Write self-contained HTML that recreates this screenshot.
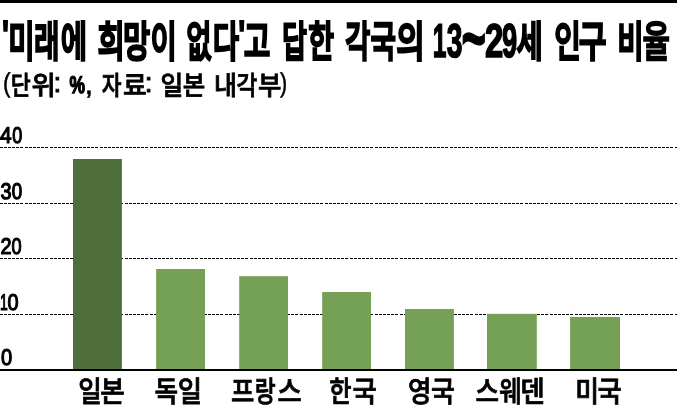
<!DOCTYPE html>
<html lang="ko">
<head>
<meta charset="utf-8">
<title>'미래에 희망이 없다'고 답한 각국의 13~29세 인구 비율</title>
<style>
html,body{margin:0;padding:0;background:#fff;}
body{width:677px;height:405px;overflow:hidden;}
svg{display:block;}
text{fill:#000;text-rendering:geometricPrecision;}
</style>
</head>
<body>
<svg width="677" height="405" viewBox="0 0 677 405">
<rect x="0" y="0" width="677" height="405" fill="#fff"/>
<rect x="0" y="0" width="677" height="3" fill="#000"/>
<g stroke="#000" stroke-width="1" stroke-dasharray="3 1 3 1 3 1 3 1 3 1 3 2" shape-rendering="crispEdges">
<line x1="0" y1="147.5" x2="677" y2="147.5"/>
<line x1="0" y1="203.5" x2="677" y2="203.5"/>
<line x1="0" y1="258.5" x2="677" y2="258.5"/>
<line x1="0" y1="314.5" x2="677" y2="314.5"/>
</g>
<rect x="73.0" y="159.0" width="48.9" height="210.5" fill="#4e6f3b"/>
<rect x="156.1" y="269.0" width="48.9" height="100.5" fill="#74a156"/>
<rect x="239.2" y="276.2" width="48.8" height="93.3" fill="#74a156"/>
<rect x="322.2" y="292.0" width="48.8" height="77.5" fill="#74a156"/>
<rect x="405.0" y="309.0" width="48.9" height="60.5" fill="#74a156"/>
<rect x="487.0" y="313.8" width="49.8" height="55.7" fill="#74a156"/>
<rect x="570.1" y="317.0" width="49.9" height="52.5" fill="#74a156"/>
<rect x="0" y="369.0" width="677" height="2.00" fill="#000"/>
<text transform="translate(0 57) scale(0.6407 1)" font-family='"Liberation Sans", "Noto Sans CJK KR", sans-serif' font-size="43.09" font-weight="500" stroke="#000" stroke-width="2.5" stroke-linejoin="miter" vector-effect="non-scaling-stroke"><tspan x="3.12" y="-8" font-size="40.98" font-weight="700" stroke-width="1.6" textLength="10.85" lengthAdjust="spacingAndGlyphs">'</tspan><tspan x="12.80" y="0" textLength="41.23" lengthAdjust="spacingAndGlyphs">미</tspan><tspan x="53.21" y="0" textLength="39.88" lengthAdjust="spacingAndGlyphs">래</tspan><tspan x="94.76" y="0" textLength="41.16" lengthAdjust="spacingAndGlyphs">에</tspan> <tspan x="152.06" y="0" textLength="42.54" lengthAdjust="spacingAndGlyphs">희</tspan><tspan x="191.83" y="0" textLength="42.46" lengthAdjust="spacingAndGlyphs">망</tspan><tspan x="234.90" y="0" textLength="41.00" lengthAdjust="spacingAndGlyphs">이</tspan> <tspan x="290.65" y="0" textLength="39.48" lengthAdjust="spacingAndGlyphs">없</tspan><tspan x="332.17" y="0" textLength="41.17" lengthAdjust="spacingAndGlyphs">다</tspan><tspan x="371.76" y="-8" font-size="40.98" font-weight="700" stroke-width="1.6" textLength="10.85" lengthAdjust="spacingAndGlyphs">'</tspan><tspan x="380.60" y="0" textLength="41.55" lengthAdjust="spacingAndGlyphs">고</tspan> <tspan x="440.26" y="0" textLength="39.04" lengthAdjust="spacingAndGlyphs">답</tspan><tspan x="481.12" y="0" textLength="40.35" lengthAdjust="spacingAndGlyphs">한</tspan> <tspan x="539.00" y="0" textLength="39.08" lengthAdjust="spacingAndGlyphs">각</tspan><tspan x="578.39" y="0" textLength="39.80" lengthAdjust="spacingAndGlyphs">국</tspan><tspan x="618.56" y="0" textLength="44.45" lengthAdjust="spacingAndGlyphs">의</tspan> <tspan x="675.38" y="0" font-size="47.58" font-weight="700" stroke-width="1.6" textLength="21.39" lengthAdjust="spacingAndGlyphs">1</tspan><tspan x="697.35" y="0" font-size="47.58" font-weight="700" stroke-width="1.6" textLength="24.48" lengthAdjust="spacingAndGlyphs">3</tspan><tspan x="720.24" y="6" font-size="72.63" font-weight="700" stroke-width="1.8" textLength="38.08" lengthAdjust="spacingAndGlyphs">~</tspan><tspan x="756.99" y="0" font-size="47.58" font-weight="700" stroke-width="1.6" textLength="28.59" lengthAdjust="spacingAndGlyphs">2</tspan><tspan x="783.63" y="0" font-size="47.58" font-weight="700" stroke-width="1.6" textLength="23.65" lengthAdjust="spacingAndGlyphs">9</tspan><tspan x="806.35" y="0" textLength="41.07" lengthAdjust="spacingAndGlyphs">세</tspan> <tspan x="864.95" y="0" textLength="41.59" lengthAdjust="spacingAndGlyphs">인</tspan><tspan x="903.26" y="0" textLength="43.53" lengthAdjust="spacingAndGlyphs">구</tspan> <tspan x="963.43" y="0" textLength="41.23" lengthAdjust="spacingAndGlyphs">비</tspan><tspan x="1002.67" y="0" stroke-width="1.9" textLength="42.87" lengthAdjust="spacingAndGlyphs">율</tspan></text>
<text transform="translate(0 95) scale(0.9012 1)" font-family='"Liberation Sans", "Noto Sans CJK KR", sans-serif' font-size="26.69" font-weight="500" stroke="#000" stroke-width="0.8" stroke-linejoin="miter" vector-effect="non-scaling-stroke"><tspan x="3.21" y="-3" font-size="27.11" font-weight="400" stroke-width="0.5" textLength="8.42" lengthAdjust="spacingAndGlyphs">(</tspan><tspan x="11.80" y="0" textLength="22.18" lengthAdjust="spacingAndGlyphs">단</tspan><tspan x="35.09" y="0" textLength="26.89" lengthAdjust="spacingAndGlyphs">위</tspan><tspan x="59.00" y="-3" font-size="28.01" textLength="9.14" lengthAdjust="spacingAndGlyphs">:</tspan> <tspan x="77.07" y="-2" font-size="24.24" font-weight="700" stroke-width="1.4" textLength="17.14" lengthAdjust="spacingAndGlyphs">%</tspan><tspan x="95.43" y="-1" font-size="21.83" font-weight="700" stroke-width="0.6" textLength="6.42" lengthAdjust="spacingAndGlyphs">,</tspan> <tspan x="112.86" y="0" textLength="21.94" lengthAdjust="spacingAndGlyphs">자</tspan><tspan x="136.54" y="0" textLength="26.31" lengthAdjust="spacingAndGlyphs">료</tspan><tspan x="160.31" y="-3" font-size="28.01" textLength="9.14" lengthAdjust="spacingAndGlyphs">:</tspan> <tspan x="178.20" y="0" textLength="25.21" lengthAdjust="spacingAndGlyphs">일</tspan><tspan x="202.89" y="0" textLength="24.97" lengthAdjust="spacingAndGlyphs">본</tspan> <tspan x="237.42" y="0" textLength="25.56" lengthAdjust="spacingAndGlyphs">내</tspan><tspan x="262.41" y="0" textLength="23.12" lengthAdjust="spacingAndGlyphs">각</tspan><tspan x="286.32" y="0" textLength="25.95" lengthAdjust="spacingAndGlyphs">부</tspan><tspan x="310.71" y="-3" font-size="27.11" font-weight="400" stroke-width="0.5" textLength="8.00" lengthAdjust="spacingAndGlyphs">)</tspan></text>
<text transform="translate(0 143) scale(0.8400 1)" font-family='"Liberation Sans", "Noto Sans CJK KR", sans-serif' font-size="22.70" font-weight="400" stroke="#000" stroke-width="1.2" stroke-linejoin="miter" vector-effect="non-scaling-stroke"><tspan x="0.08" y="0" textLength="13.82" lengthAdjust="spacingAndGlyphs">4</tspan><tspan x="14.52" y="0" textLength="11.92" lengthAdjust="spacingAndGlyphs">0</tspan></text>
<text transform="translate(0 199) scale(0.8400 1)" font-family='"Liberation Sans", "Noto Sans CJK KR", sans-serif' font-size="22.70" font-weight="400" stroke="#000" stroke-width="1.2" stroke-linejoin="miter" vector-effect="non-scaling-stroke"><tspan x="0.47" y="0" textLength="13.16" lengthAdjust="spacingAndGlyphs">3</tspan><tspan x="14.07" y="0" textLength="12.42" lengthAdjust="spacingAndGlyphs">0</tspan></text>
<text transform="translate(0 254) scale(0.8400 1)" font-family='"Liberation Sans", "Noto Sans CJK KR", sans-serif' font-size="22.70" font-weight="400" stroke="#000" stroke-width="1.2" stroke-linejoin="miter" vector-effect="non-scaling-stroke"><tspan x="0.53" y="0" textLength="13.19" lengthAdjust="spacingAndGlyphs">2</tspan><tspan x="13.57" y="0" textLength="12.05" lengthAdjust="spacingAndGlyphs">0</tspan></text>
<text transform="translate(0 310) scale(0.8400 1)" font-family='"Liberation Sans", "Noto Sans CJK KR", sans-serif' font-size="22.70" font-weight="400" stroke="#000" stroke-width="1.2" stroke-linejoin="miter" vector-effect="non-scaling-stroke"><tspan x="-0.10" y="0" textLength="9.23" lengthAdjust="spacingAndGlyphs">1</tspan><tspan x="9.01" y="0" textLength="13.18" lengthAdjust="spacingAndGlyphs">0</tspan></text>
<text transform="translate(0 365) scale(0.8400 1)" font-family='"Liberation Sans", "Noto Sans CJK KR", sans-serif' font-size="22.70" font-weight="400" stroke="#000" stroke-width="1.2" stroke-linejoin="miter" vector-effect="non-scaling-stroke"><tspan x="1.28" y="0" textLength="13.30" lengthAdjust="spacingAndGlyphs">0</tspan></text>
<text transform="translate(0 402) scale(0.8650 1)" font-family='"Liberation Sans", "Noto Sans CJK KR", sans-serif' font-size="29.40" font-weight="500" stroke="#000" stroke-width="0.8" stroke-linejoin="miter" vector-effect="non-scaling-stroke"><tspan x="90.33" y="0" textLength="27.28" lengthAdjust="spacingAndGlyphs">일</tspan><tspan x="115.96" y="0" textLength="28.40" lengthAdjust="spacingAndGlyphs">본</tspan></text>
<text transform="translate(0 402) scale(0.8650 1)" font-family='"Liberation Sans", "Noto Sans CJK KR", sans-serif' font-size="29.40" font-weight="500" stroke="#000" stroke-width="0.8" stroke-linejoin="miter" vector-effect="non-scaling-stroke"><tspan x="178.53" y="0" textLength="27.32" lengthAdjust="spacingAndGlyphs">독</tspan><tspan x="205.58" y="0" textLength="28.10" lengthAdjust="spacingAndGlyphs">일</tspan></text>
<text transform="translate(0 402) scale(0.8650 1)" font-family='"Liberation Sans", "Noto Sans CJK KR", sans-serif' font-size="29.40" font-weight="500" stroke="#000" stroke-width="0.8" stroke-linejoin="miter" vector-effect="non-scaling-stroke"><tspan x="267.10" y="0" textLength="27.00" lengthAdjust="spacingAndGlyphs">프</tspan><tspan x="294.46" y="0" textLength="24.21" lengthAdjust="spacingAndGlyphs">랑</tspan><tspan x="320.85" y="0" textLength="28.09" lengthAdjust="spacingAndGlyphs">스</tspan></text>
<text transform="translate(0 402) scale(0.8650 1)" font-family='"Liberation Sans", "Noto Sans CJK KR", sans-serif' font-size="29.40" font-weight="500" stroke="#000" stroke-width="0.8" stroke-linejoin="miter" vector-effect="non-scaling-stroke"><tspan x="380.60" y="0" textLength="25.80" lengthAdjust="spacingAndGlyphs">한</tspan><tspan x="407.44" y="0" textLength="28.10" lengthAdjust="spacingAndGlyphs">국</tspan></text>
<text transform="translate(0 402) scale(0.8650 1)" font-family='"Liberation Sans", "Noto Sans CJK KR", sans-serif' font-size="29.40" font-weight="500" stroke="#000" stroke-width="0.8" stroke-linejoin="miter" vector-effect="non-scaling-stroke"><tspan x="471.73" y="0" textLength="27.07" lengthAdjust="spacingAndGlyphs">영</tspan><tspan x="498.15" y="0" textLength="27.60" lengthAdjust="spacingAndGlyphs">국</tspan></text>
<text transform="translate(0 402) scale(0.8650 1)" font-family='"Liberation Sans", "Noto Sans CJK KR", sans-serif' font-size="29.40" font-weight="500" stroke="#000" stroke-width="0.8" stroke-linejoin="miter" vector-effect="non-scaling-stroke"><tspan x="549.76" y="0" textLength="27.22" lengthAdjust="spacingAndGlyphs">스</tspan><tspan x="577.20" y="0" textLength="26.05" lengthAdjust="spacingAndGlyphs">웨</tspan><tspan x="601.49" y="0" textLength="28.37" lengthAdjust="spacingAndGlyphs">덴</tspan></text>
<text transform="translate(0 402) scale(0.8650 1)" font-family='"Liberation Sans", "Noto Sans CJK KR", sans-serif' font-size="29.40" font-weight="500" stroke="#000" stroke-width="0.8" stroke-linejoin="miter" vector-effect="non-scaling-stroke"><tspan x="664.92" y="0" textLength="27.55" lengthAdjust="spacingAndGlyphs">미</tspan><tspan x="690.67" y="0" textLength="28.10" lengthAdjust="spacingAndGlyphs">국</tspan></text>
</svg>
</body>
</html>
